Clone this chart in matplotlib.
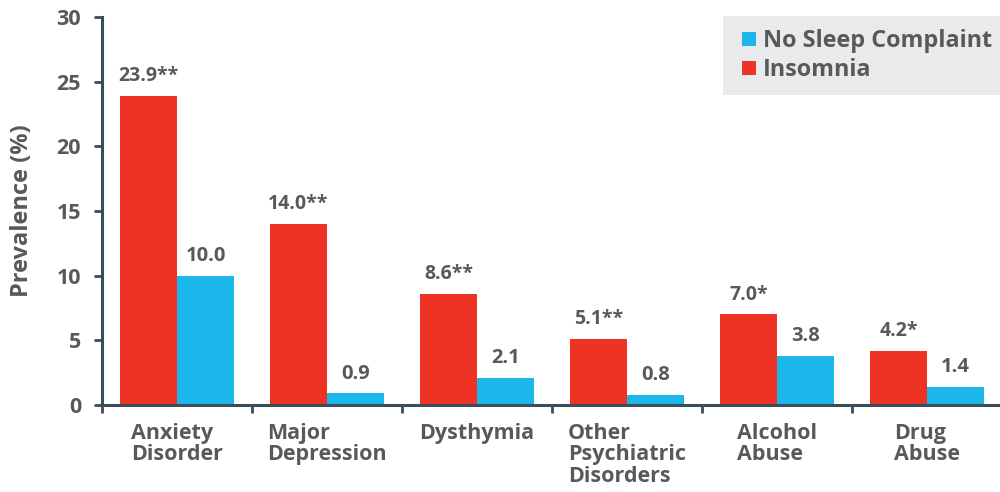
import matplotlib
matplotlib.use("Agg")
import matplotlib.pyplot as plt
import numpy as np
from matplotlib.patches import Patch, Rectangle

categories = ["Anxiety\nDisorder", "Major\nDepression", "Dysthymia",
              "Other\nPsychiatric\nDisorders", "Alcohol\nAbuse", "Drug\nAbuse"]
insomnia = [23.9, 14.0, 8.6, 5.1, 7.0, 4.2]
insomnia_labels = ["23.9**", "14.0**", "8.6**", "5.1**", "7.0*", "4.2*"]
no_complaint = [10.0, 0.9, 2.1, 0.8, 3.8, 1.4]
no_complaint_labels = ["10.0", "0.9", "2.1", "0.8", "3.8", "1.4"]
yticks = [0, 5, 10, 15, 20, 25, 30]

RED = "#ee3224"
BLUE = "#1cb7ea"
TXT = "#58595b"
SPINE = "#3b4d5a"
FONT = "Open Sans"

plt.rcParams["font.family"] = [FONT, "DejaVu Sans"]

W, H = 1000, 492
fig = plt.figure(figsize=(W / 100, H / 100), dpi=100)
ax = fig.add_axes([0.102, 0.177, 0.9, 0.788])

x = np.arange(len(categories))
w = 0.38
off = 0.19
ax.bar(x - off, insomnia, width=w, color=RED, zorder=2)
ax.bar(x + off, no_complaint, width=w, color=BLUE, zorder=2)

for xi, v, lab in zip(x - off, insomnia, insomnia_labels):
    ax.text(xi, v + 0.75, lab, ha="center", va="bottom", fontsize=14,
            fontweight="bold", color=TXT)
for xi, v, lab in zip(x + off, no_complaint, no_complaint_labels):
    ax.text(xi, v + 0.75, lab, ha="center", va="bottom", fontsize=14.5,
            fontweight="bold", color=TXT)

ax.set_xlim(-0.5, len(categories) - 0.5)
ax.set_ylim(0, 30)
ax.set_yticks(yticks)
ax.set_yticklabels([str(t) for t in yticks], fontsize=15.5, fontweight="bold", color=TXT)
ax.set_xticks(np.arange(len(categories) + 1) - 0.5)
ax.set_xticklabels([])
ax.tick_params(axis="x", length=6, width=2, color=SPINE, direction="out")
ax.tick_params(axis="y", length=6, width=2, color=SPINE, direction="out", pad=9)

for xi, lab in zip(x, categories):
    ax.text(xi, -1.4, lab, ha="center", va="top", multialignment="left",
            fontsize=15.5, fontweight="bold", color=TXT, linespacing=1.02,
            transform=ax.transData)

for s in ["top", "right"]:
    ax.spines[s].set_visible(False)
for s in ["left", "bottom"]:
    ax.spines[s].set_color(SPINE)
    ax.spines[s].set_linewidth(2.2)

ax.set_ylabel("Prevalence (%)", fontsize=17, fontweight="bold", color=TXT, labelpad=16)

# legend background
fig.patches.append(Rectangle((723 / W, 1 - 95 / H), 277 / W, 79 / H,
                             transform=fig.transFigure, facecolor="#e9eaec",
                             edgecolor="none", zorder=0))

handles = [Patch(facecolor=BLUE, label="No Sleep Complaint"),
           Patch(facecolor=RED, label="Insomnia")]
leg = fig.legend(handles=handles, loc="upper left", bbox_to_anchor=(742 / W, 1 - 29 / H),
                 frameon=False, fontsize=16.8, handlelength=0.58, handleheight=0.58,
                 handletextpad=0.3, labelspacing=0.22, borderpad=0, borderaxespad=0)
for t in leg.get_texts():
    t.set_color(TXT)
    t.set_fontweight("bold")

fig.savefig("out.png", dpi=100)
